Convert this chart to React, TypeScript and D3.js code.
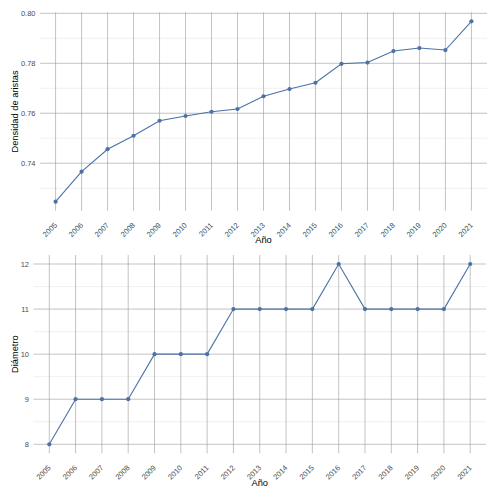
import React from "react";
import * as d3 from "d3";

const years = ["2005","2006","2007","2008","2009","2010","2011","2012","2013","2014","2015","2016","2017","2018","2019","2020","2021"];
const density = [0.7246, 0.7366, 0.7456, 0.751, 0.757, 0.7589, 0.7606, 0.7617, 0.7668, 0.7697, 0.7722, 0.7798, 0.7803, 0.7849, 0.7861, 0.7853, 0.7968];
const diameter = [8, 9, 9, 9, 10, 10, 10, 11, 11, 11, 11, 12, 11, 11, 11, 11, 12];
const densityTicks = [0.74, 0.76, 0.78, 0.80];
const densityMinor = [0.73, 0.75, 0.77, 0.79];
const diameterTicks = [8, 9, 10, 11, 12];
const diameterMinor = [8.5, 9.5, 10.5, 11.5];

const LINE = "#4b71a6";
const FONT = "'Liberation Sans', Arial, sans-serif";

type PanelProps = {
  values: number[];
  ticks: number[];
  minor: number[];
  fmt: (v: number) => string;
  left: number;
  right: number;
  top: number;
  bottom: number;
  yTitle: string;
  titleY: number;
};

function Panel({ values, ticks, minor, fmt, left, right, top, bottom, yTitle, titleY }: PanelProps) {
  const x = d3.scalePoint<string>().domain(years).range([left, right]).padding(0.6);
  const [mn, mx] = d3.extent(values) as [number, number];
  const pad = (mx - mn) * 0.05;
  const y = d3.scaleLinear().domain([mn - pad, mx + pad]).range([bottom, top]);
  const line = d3.line<number>().x((_, i) => x(years[i])!).y((d) => y(d));
  const cy = (top + bottom) / 2;
  return (
    <g>
      {minor.map((m) => (
        <line key={"m" + m} x1={left} x2={right} y1={y(m)} y2={y(m)} stroke="#e6e6e6" strokeWidth={0.6} />
      ))}
      {ticks.map((t) => (
        <line key={"h" + t} x1={left} x2={right} y1={y(t)} y2={y(t)} stroke="#9a9a9a" strokeWidth={0.6} />
      ))}
      {years.map((yr) => (
        <line key={"v" + yr} x1={x(yr)} x2={x(yr)} y1={top} y2={bottom} stroke="#9a9a9a" strokeWidth={0.6} />
      ))}
      <path d={line(values) || ""} fill="none" stroke={LINE} strokeWidth={1.1} />
      {values.map((v, i) => (
        <circle key={"p" + i} cx={x(years[i])} cy={y(v)} r={2.1} fill={LINE} />
      ))}
      {ticks.map((t) => (
        <text key={"yt" + t} x={left - 4.5} y={y(t)} dy="0.35em" textAnchor="end" fontSize={7.5} fill="#4d4d4d" fontFamily={FONT}>
          {fmt(t)}
        </text>
      ))}
      {years.map((yr) => (
        <text
          key={"xt" + yr}
          transform={`translate(${x(yr)! + 2},${bottom + 15}) rotate(-45)`}
          textAnchor="end"
          fontSize={7.5}
          fill="#4d4d4d"
          fontFamily={FONT}
        >
          {yr}
        </text>
      ))}
      <text transform={`translate(17.5,${cy}) rotate(-90)`} textAnchor="middle" fontSize={9.3} fill="#000" fontFamily={FONT}>
        {yTitle}
      </text>
      <text x={(left + right) / 2} y={titleY} textAnchor="middle" fontSize={9.3} fill="#000" fontFamily={FONT}>
        Año
      </text>
    </g>
  );
}

export default function App() {
  return (
    <svg width={492} height={488} style={{ position: "absolute", left: 0, top: 0, background: "#fff" }}>
      <rect width={492} height={488} fill="#fff" />
      <Panel
        values={density}
        ticks={densityTicks}
        minor={densityMinor}
        fmt={(v) => v.toFixed(2)}
        left={40}
        right={487}
        top={12.3}
        bottom={210.7}
        yTitle="Densidad de aristas"
        titleY={243}
      />
      <Panel
        values={diameter}
        ticks={diameterTicks}
        minor={diameterMinor}
        fmt={(v) => String(v)}
        left={33.5}
        right={486}
        top={255}
        bottom={453.3}
        yTitle="Diámetro"
        titleY={486}
      />
    </svg>
  );
}
